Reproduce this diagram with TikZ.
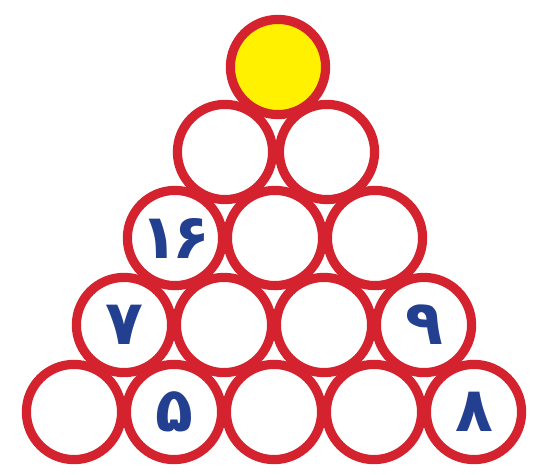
\documentclass[tikz,border=0pt]{standalone}
\usepackage{fontspec}
\usepackage{xcolor}
\usepackage{tikz}
\usetikzlibrary{positioning}
\newfontfamily\digitfont[Script=Arabic]{DejaVu Sans}
\definecolor{ringred}{HTML}{D4232E}
\definecolor{sunyellow}{HTML}{FFF100}
\definecolor{numblue}{HTML}{233F8F}

\begin{document}
\begin{tikzpicture}[
  x=0.5pt, y=-0.5pt,
  ball/.style={circle, draw=ringred, line width=4.6pt, fill=white, minimum size=47.6pt, inner sep=0pt,
    font=\digitfont\bfseries\fontsize{31}{31}\selectfont, text=numblue},
  topball/.style={ball, fill=sunyellow}
]
  \useasboundingbox (0,0) rectangle (543,475);
  % top
  \node[topball] (a0) at (278,67) {};
  % second row
  \node[ball] (b0) at (225,152) {};
  \node[ball] (b1) at (327,152) {};
  % third row
  \node[ball] (c0) at (175,238) {۱\kern-3pt۶};
  \node[ball] (c1) at (275,238) {};
  \node[ball] (c2) at (375,238) {};
  % fourth row
  \node[ball] (d0) at (124,325) {۷};
  \node[ball] (d1) at (224,325) {};
  \node[ball] (d2) at (324,325) {};
  \node[ball] (d3) at (424,325) {۹};
  % bottom row
  \node[ball] (e0) at (74,412) {};
  \node[ball] (e1) at (174,412) {۵};
  \node[ball] (e2) at (274,412) {};
  \node[ball] (e3) at (374,412) {};
  \node[ball] (e4) at (474,412) {۸};
\end{tikzpicture}
\end{document}
